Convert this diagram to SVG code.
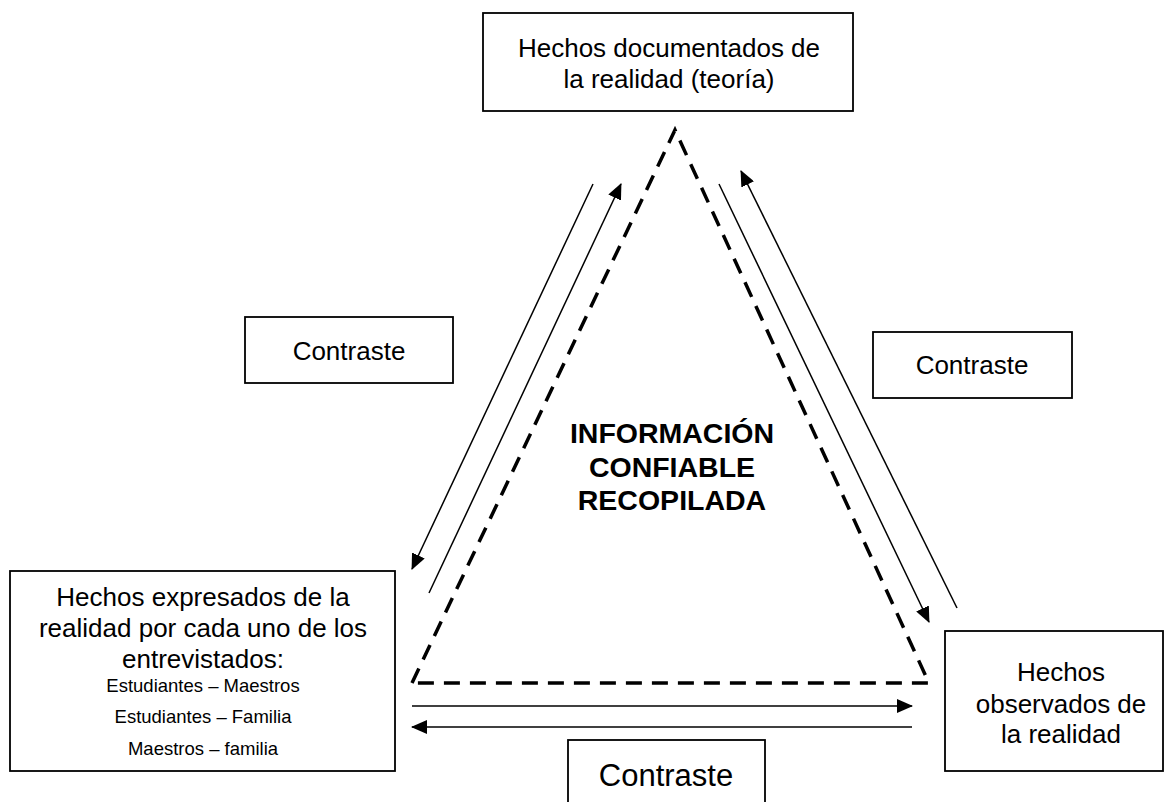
<svg xmlns="http://www.w3.org/2000/svg" width="1165" height="802" viewBox="0 0 1165 802">
  <style>
    .box { fill: #ffffff; stroke: #000000; stroke-width: 1.8; }
    .t { font-family: "Liberation Sans", Arial, sans-serif; font-size: 26px; fill: #000000; text-anchor: middle; }
    .s { font-family: "Liberation Sans", Arial, sans-serif; font-size: 18.5px; fill: #000000; text-anchor: middle; }
    .b { font-family: "Liberation Sans", Arial, sans-serif; font-size: 28.5px; font-weight: bold; fill: #000000; text-anchor: middle; }
    .arrow { fill: none; stroke: #000000; stroke-width: 1.5; marker-end: url(#head); }
    .dash { fill: none; stroke: #000000; stroke-width: 3.5; stroke-dasharray: 16 10; stroke-linejoin: miter; }
  </style>
  <defs>
    <marker id="head" markerUnits="userSpaceOnUse" markerWidth="16" markerHeight="14" refX="15" refY="7" orient="auto">
      <path d="M0,0 L16,7 L0,14 Z" fill="#000000"/>
    </marker>
  </defs>
  <rect width="1165" height="802" fill="#ffffff"/>

  <g id="connectors">
    <polygon id="dashed-triangle" class="dash" points="412,683 675,130 929,683"/>
    <line class="arrow" x1="593" y1="184" x2="412" y2="569"/>
    <line class="arrow" x1="429" y1="593" x2="621" y2="184"/>
    <line class="arrow" x1="719" y1="184" x2="929" y2="622"/>
    <line class="arrow" x1="957" y1="608" x2="741" y2="171"/>
    <line class="arrow" x1="412" y1="706" x2="912" y2="706"/>
    <line class="arrow" x1="912" y1="727" x2="412" y2="727"/>
  </g>

  <g id="node-teoria">
    <rect class="box" x="483" y="13" width="370" height="98"/>
    <text class="t" x="669" y="57">Hechos documentados de</text>
    <text class="t" x="669" y="88">la realidad (teoría)</text>
  </g>

  <g id="node-contraste-izq">
    <rect class="box" x="245" y="317" width="208" height="66"/>
    <text class="t" x="349" y="360">Contraste</text>
  </g>

  <g id="node-contraste-der">
    <rect class="box" x="873" y="332" width="199" height="66"/>
    <text class="t" x="972" y="374">Contraste</text>
  </g>

  <g id="node-centro">
    <text class="b" x="672" y="443">INFORMACIÓN</text>
    <text class="b" x="672" y="477">CONFIABLE</text>
    <text class="b" x="672" y="510">RECOPILADA</text>
  </g>

  <g id="node-entrevistados">
    <rect class="box" x="10" y="571" width="385" height="200"/>
    <text class="t" x="203" y="606">Hechos expresados de la</text>
    <text class="t" x="203" y="637">realidad por cada uno de los</text>
    <text class="t" x="203" y="668">entrevistados:</text>
    <text class="s" x="203" y="692">Estudiantes – Maestros</text>
    <text class="s" x="203" y="723">Estudiantes – Familia</text>
    <text class="s" x="203" y="755">Maestros – familia</text>
  </g>

  <g id="node-observados">
    <rect class="box" x="945" y="631" width="218" height="140"/>
    <text class="t" x="1061" y="681">Hechos</text>
    <text class="t" x="1061" y="713">observados de</text>
    <text class="t" x="1061" y="743">la realidad</text>
  </g>

  <g id="node-contraste-abajo">
    <rect class="box" x="568" y="740" width="197" height="100"/>
    <text class="t" x="666" y="786" style="font-size:31px">Contraste</text>
  </g>
</svg>
